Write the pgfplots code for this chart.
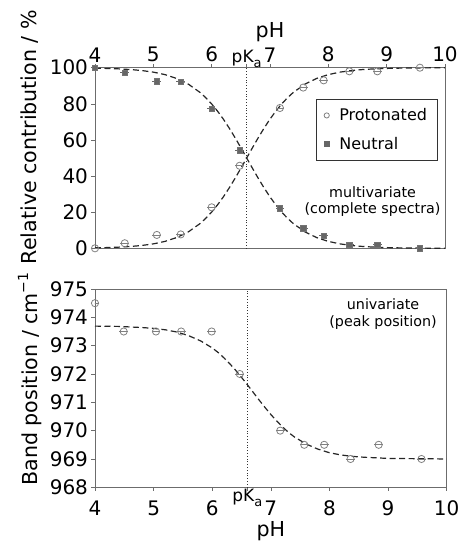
\documentclass[border=0pt]{standalone}
\usepackage{fontspec}
\setmainfont{DejaVu Sans}
\usepackage{pgfplots}
\pgfplotsset{compat=1.18}
\newcommand{\fs}[1]{\fontsize{#1}{#1}\selectfont}
\newcommand{\pKa}{\smash{\fs{17}pK\raisebox{-0.6ex}{\fs{13}a}}}
\pgfplotsset{
  myaxis/.style={
    scale only axis,
    /pgf/number format/assume math mode=true,
    xmin=4, xmax=10,
    axis line style={gray!85!black, line width=0.7pt},
    every tick/.style={gray!85!black, line width=0.6pt},
    tick align=outside,
    major tick length=3.5pt,
    ytick pos=left,
    tick label style={font=\fs{20}},
    label style={font=\fs{20.6}},
    xtick={4,5,6,6.6,7,8,9,10},
    xticklabels={4,5,6,\pKa,7,8,9,10},
    x tick label style={inner sep=2pt},
  },
  curve/.style={black!85, line width=1.2pt, dash pattern=on 6pt off 3.5pt, no marks},
  prot/.style={only marks, mark=o, mark size=3.6pt, mark options={gray, line width=0.8pt, fill=white},
    error bars/x dir=both, error bars/x fixed=0.075, error bars/error mark=none,
    error bars/error bar style={gray, line width=0.8pt}},
  neut/.style={only marks, mark=square*, mark size=2.8pt, mark options={gray!90!black, fill=gray!80!black, line width=0.6pt},
    error bars/x dir=both, error bars/x fixed=0.075, error bars/error mark=none,
    error bars/error bar style={gray!80!black, line width=0.8pt}},
}
\begin{document}
\begin{tikzpicture}
\path[use as bounding box] (0,0) rectangle (463pt,-542pt);

% ---------------- top panel ----------------
\begin{axis}[myaxis,
  at={(95pt,-67.7pt)}, anchor=north west,
  width=350pt, height=180.6pt,
  ymin=0, ymax=100,
  ytick={0,20,40,60,80,100},
  xtick pos=upper, xticklabel pos=upper,
  xlabel={pH},
  ylabel={Relative contribution / \%},
  ylabel style={at={(axis description cs:-0.186,0.616)}, anchor=center},
  legend style={at={(axis description cs:0.978,0.825)}, anchor=north east,
    font=\fs{16}, draw=black!80, line width=0.6pt, inner xsep=8pt, inner ysep=7pt,
    row sep=11pt, column sep=8pt, cells={anchor=west}},
  legend cell align=left,
]
\addplot[black!80, dotted, line width=0.8pt, forget plot] coordinates {(6.6,0) (6.6,100)};
% fitted curves
\addplot[curve, forget plot] coordinates {
(4.0,0.25) (4.2,0.40) (4.4,0.63) (4.6,0.99) (4.8,1.56) (5.0,2.45) (5.2,3.83) (5.4,5.94)
(5.6,9.09) (5.8,13.68) (5.9,16.63) (6.0,20.08) (6.1,24.03) (6.2,28.47) (6.3,33.39) (6.4,38.69)
(6.5,44.27) (6.6,50.00) (6.7,55.73) (6.8,61.31) (6.9,66.61) (7.0,71.53) (7.1,75.97) (7.2,79.92)
(7.3,83.37) (7.4,86.32) (7.6,90.91) (7.8,94.07) (8.0,96.17) (8.2,97.55) (8.4,98.44) (8.6,99.01)
(8.8,99.37) (9.0,99.60) (9.2,99.75) (9.4,99.84) (9.6,99.90) (10.0,99.96)};
\addplot[curve, forget plot] coordinates {
(4.0,99.75) (4.2,99.60) (4.4,99.37) (4.6,99.01) (4.8,98.44) (5.0,97.55) (5.2,96.17) (5.4,94.06)
(5.6,90.91) (5.8,86.32) (5.9,83.37) (6.0,79.92) (6.1,75.97) (6.2,71.53) (6.3,66.61) (6.4,61.31)
(6.5,55.73) (6.6,50.00) (6.7,44.27) (6.8,38.69) (6.9,33.39) (7.0,28.47) (7.1,24.03) (7.2,20.08)
(7.3,16.63) (7.4,13.68) (7.6,9.09) (7.8,5.93) (8.0,3.83) (8.2,2.45) (8.4,1.56) (8.6,0.99)
(8.8,0.63) (9.0,0.40) (9.2,0.25) (9.4,0.16) (9.6,0.10) (10.0,0.04)};
% data
\addplot[prot, forget plot] coordinates {
(4.0,0.0) (4.51,2.8) (5.06,7.4) (5.47,7.7) (6.0,22.7) (6.48,45.7) (7.17,77.7)
(7.57,89.0) (7.92,93.0) (8.36,98.0) (8.84,98.0) (9.57,100.0)};
\addplot[neut, forget plot] coordinates {
(4.0,100.0) (4.51,97.2) (5.06,92.6) (5.47,92.3) (6.0,77.3) (6.48,54.3) (7.17,22.3)
(7.57,11.0) (7.92,7.0) (8.36,2.0) (8.84,2.0) (9.57,0.0)};
\addlegendimage{only marks, mark=o, mark size=2.6pt, mark options={gray, line width=0.8pt}}
\addlegendentry{Protonated}
\addlegendimage{only marks, mark=square*, mark size=2.3pt, mark options={gray!80!black}}
\addlegendentry{Neutral}
\node[align=center, font=\fs{14.3}, inner sep=0pt] at (axis description cs:0.793,0.258)
  {multivariate\\[2pt](complete spectra)};
\end{axis}

% ---------------- bottom panel ----------------
\begin{axis}[myaxis,
  at={(95pt,-289pt)}, anchor=north west,
  width=351.7pt, height=198.3pt,
  ymin=968, ymax=975,
  ytick={968,969,970,971,972,973,974,975},
  xtick pos=lower, xticklabel pos=lower,
  x tick label style={yshift=-8pt},
  xlabel={pH},
  xlabel style={inner sep=0pt, yshift=-3.5pt},
  ylabel={Band position / cm\raisebox{0.85ex}{\fs{14}−1}},
  ylabel style={at={(axis description cs:-0.185,0.546)}, anchor=center},
]
\addplot[black!80, dotted, line width=0.8pt] coordinates {(6.6,968) (6.6,975)};
\addplot[curve] coordinates {
(4.0,973.69) (4.4,973.68) (4.8,973.64) (5.0,973.61) (5.2,973.56) (5.4,973.48) (5.6,973.35)
(5.8,973.17) (6.0,972.92) (6.1,972.76) (6.2,972.57) (6.3,972.36) (6.4,972.13) (6.5,971.88)
(6.6,971.62) (6.7,971.35) (6.8,971.08) (6.9,970.82) (7.0,970.57) (7.1,970.34) (7.2,970.13)
(7.3,969.94) (7.4,969.78) (7.6,969.53) (7.8,969.35) (8.0,969.22) (8.2,969.14) (8.4,969.09)
(8.6,969.06) (8.8,969.04) (9.0,969.02) (9.5,969.01) (10.0,969.00)};
\addplot[prot] coordinates {
(4.0,974.5) (4.49,973.5) (5.04,973.5) (5.47,973.5) (5.99,973.5) (6.47,972.0) (7.16,970.0)
(7.57,969.5) (7.91,969.5) (8.36,969.0) (8.84,969.5) (9.57,969.0)};
\node[align=center, font=\fs{14.3}, inner sep=0pt] at (axis description cs:0.819,0.874)
  {univariate\\[3pt](peak position)};
\end{axis}
\end{tikzpicture}
\end{document}
